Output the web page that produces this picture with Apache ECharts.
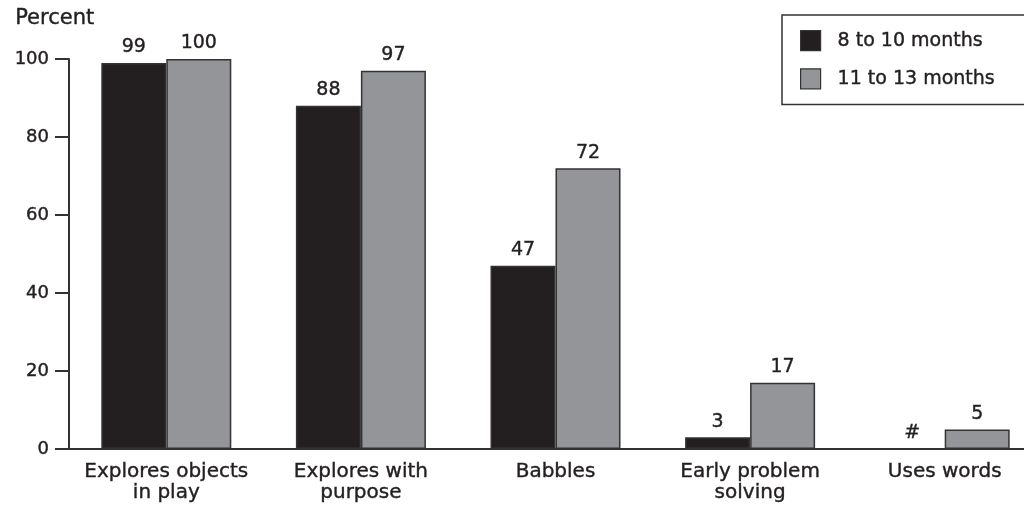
<!DOCTYPE html>
<html>
<head>
<meta charset="utf-8">
<script src="https://cdn.jsdelivr.net/npm/echarts@6/dist/echarts.min.js"></script>
<style>
  html, body { margin: 0; padding: 0; background: #ffffff; }
  #chart { width: 1024px; height: 505px; }
</style>
</head>
<body>
<div id="chart"></div>
<script>
// Share of infants showing each cognitive skill, by age group
const categories = ['Explores objects\nin play', 'Explores with\npurpose', 'Babbles', 'Early problem\nsolving', 'Uses words'];
const seriesNames = ['8 to 10 months', '11 to 13 months'];
// null = reporting standards not met (shown as "#")
const younger = [99, 88, 47, 3, null];
const older = [100, 97, 72, 17, 5];
const yTicks = [0, 20, 40, 60, 80, 100];

const FONT = '"DejaVu Sans", sans-serif';
const TEXT = '#231f20';
const EDGE = '#333333';
// a hairline outline gives the text a slightly heavier stroke
const HEAVY = { textBorderColor: TEXT, textBorderWidth: 0.4 };

const chart = echarts.init(document.getElementById('chart'));

function barData(values) {
  return values.map(v => {
    if (v === null) {
      return {
        value: 0,
        itemStyle: { borderWidth: 0, opacity: 0 },
        label: { formatter: '#', opacity: 1 }
      };
    }
    return v;
  });
}

const labelStyle = Object.assign({
  show: true,
  position: 'top',
  distance: 6,
  fontFamily: FONT,
  fontSize: 19,
  color: TEXT
}, HEAVY);

chart.setOption({
  animation: false,
  backgroundColor: '#ffffff',
  textStyle: { fontFamily: FONT },
  graphic: [{
    type: 'text',
    left: 15,
    top: 8,
    style: Object.assign({ text: 'Percent', fontFamily: FONT, fontSize: 21, fill: TEXT, stroke: TEXT, lineWidth: 0.4 })
  }],
  legend: {
    data: seriesNames,
    orient: 'vertical',
    left: 782,
    top: 15,
    padding: [15, 30, 15, 18],
    itemWidth: 20,
    itemHeight: 20,
    itemGap: 17,
    borderColor: EDGE,
    borderWidth: 1.5,
    icon: 'rect',
    textStyle: Object.assign({ fontFamily: FONT, fontSize: 19, color: TEXT, padding: [0, 0, 0, 12] }, HEAVY),
    itemStyle: { borderColor: EDGE, borderWidth: 1.2 }
  },
  grid: { left: 69, width: 973, top: 59, bottom: 56, outerBoundsMode: 'none' },
  xAxis: {
    type: 'category',
    data: categories,
    axisLine: { show: true, lineStyle: { color: EDGE, width: 2 } },
    axisTick: { show: false },
    axisLabel: Object.assign({
      fontFamily: FONT,
      fontSize: 20,
      color: TEXT,
      margin: 12,
      lineHeight: 21,
      interval: 0
    }, HEAVY)
  },
  yAxis: {
    type: 'value',
    min: yTicks[0],
    max: yTicks[yTicks.length - 1],
    interval: 20,
    splitLine: { show: false },
    axisLine: { show: true, lineStyle: { color: EDGE, width: 2 } },
    axisTick: { show: true, length: 14, lineStyle: { color: EDGE, width: 2 } },
    axisLabel: Object.assign({
      fontFamily: FONT,
      fontSize: 18,
      color: TEXT,
      margin: 20
    }, HEAVY)
  },
  series: [
    {
      name: seriesNames[0],
      type: 'bar',
      data: barData(younger),
      barWidth: 65,
      barGap: '0%',
      itemStyle: { color: '#231f20', borderColor: EDGE, borderWidth: 1.5 },
      label: labelStyle
    },
    {
      name: seriesNames[1],
      type: 'bar',
      data: barData(older),
      barWidth: 65,
      barGap: '0%',
      itemStyle: { color: '#939598', borderColor: EDGE, borderWidth: 1.5 },
      label: labelStyle
    }
  ]
});
</script>
</body>
</html>
